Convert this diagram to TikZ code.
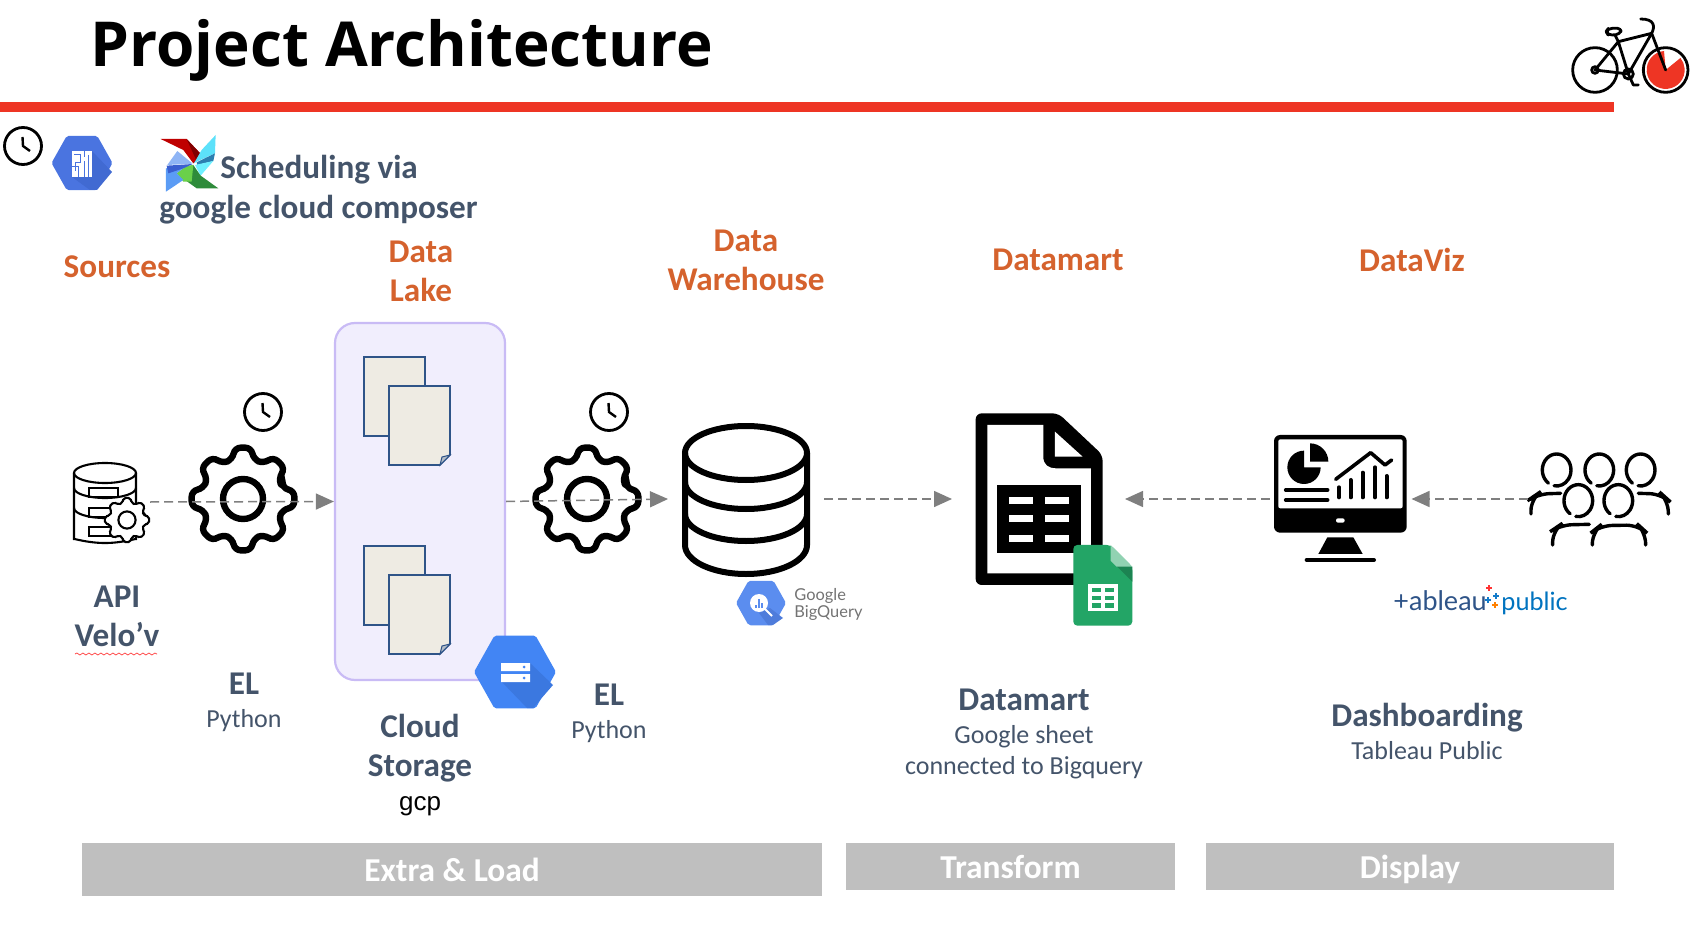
\documentclass[tikz,border=0pt]{standalone}
\usepackage{fontspec}
\usepackage{xcolor}
\usepackage{tikz}
\usetikzlibrary{positioning,arrows.meta,calc,decorations.pathmorphing}
\setmainfont{Carlito}
\newfontfamily\titlefont{Open Sans}
\newfontfamily\logofont{Lato}
\newfontfamily\gcpfont{Liberation Sans}
\definecolor{slate}{HTML}{44546A}
\definecolor{rust}{HTML}{D5622D}
\definecolor{stripe}{HTML}{EE3524}
\definecolor{lakefill}{HTML}{F1EEFD}
\definecolor{lakeline}{HTML}{C9BBF5}
\definecolor{paper}{HTML}{EEEBE3}
\definecolor{paperline}{HTML}{2F5488}
\definecolor{barfill}{HTML}{BFBFBF}
\definecolor{flowgray}{HTML}{7F7F7F}
\definecolor{cloudblue}{HTML}{4A74E0}
\definecolor{cloudshade}{HTML}{416AD2}
\definecolor{storeblue}{HTML}{4285F4}
\definecolor{storeshade}{HTML}{3B78E0}
\definecolor{bqblue}{HTML}{5B8DEF}
\definecolor{bqshade}{HTML}{4E7CDB}
\definecolor{sheetgreen}{HTML}{23A566}
\definecolor{bladecyan}{HTML}{5CE1FA}
\definecolor{bladeteal}{HTML}{2C7FB0}
\definecolor{bladeice}{HTML}{6FF0FF}
\definecolor{bladeforest}{HTML}{2E8B3A}
\definecolor{bladelime}{HTML}{6AD04A}
\definecolor{bladesky}{HTML}{5B9CF5}
\definecolor{bladeroyal}{HTML}{3A5FD0}
\definecolor{bladepale}{HTML}{8FB5F5}
\tikzset{
  stagelabel/.style={text=rust,align=center,font=\fontsize{16.6}{19.6}\selectfont\bfseries},
  toollabel/.style={text=slate,align=center,font=\fontsize{16.6}{19.6}\selectfont\bfseries},
  notelabel/.style={text=slate,align=center,font=\fontsize{13}{15.5}\selectfont},
  stagebar/.style={fill=barfill,text=white,inner sep=0pt,text height=13pt,text depth=1.3pt,font=\fontsize{16.7}{19}\selectfont\bfseries},
  iconslot/.style={inner sep=0pt,outer sep=0pt,minimum height=5pt},
  flow/.style={-{Triangle[length=9pt,width=8pt]},flowgray,line width=.75pt,dash pattern=on 4.5pt off 2.5pt},
  clockicon/.pic={
    \draw[line width=1.4pt,fill=white] (0,0) circle (18.5);
    \draw[line width=1.2pt] (-.5,-9)--(0,0)--(7,5);},
  gearicon/.pic={
    \draw[fill=white] (-15:41) \foreach \a in {0,45,...,315}{
      -- (\a-15:41) -- (\a-9:52) -- (\a+9:52) -- (\a+15:41)} -- cycle;
    \draw (0,0) circle (20);},
  hexicon/.pic={
    \fill[rounded corners=1pt] (-1,0)--(-.5,-.89)--(.5,-.89)--(1,0)--(.5,.89)--(-.5,.89)--cycle;},
  docpair/.pic={
    \draw[paperline,fill=paper,line width=.8pt] (0,0) rectangle (61,79);
    \draw[paperline,fill=paper,line width=.8pt] (25,29)--(86,29)--(86,98)--(76,108)--(25,108)--cycle;
    \draw[paperline,fill=paper!70!paperline,line width=.5pt] (86,98)--(76,108)--(78,100)--cycle;},
}
\begin{document}
\begin{tikzpicture}[x=.5pt,y=-.5pt]
  \useasboundingbox (0,0) rectangle (1690,946);
  % header
  \node[anchor=base west,inner sep=0pt,font=\fontsize{31}{34}\selectfont\titlefont\bfseries] (title) at (90,67) {Project Architecture};
  \fill[stripe] (0,102) rectangle (1614,112);
  % bike
  \begin{scope}[shift={(1540,0)},scale=.3333,line width=1.4pt,line cap=round,line join=round]
    \fill[stripe] (377,210)--(372,153) arc[start angle=-95,end angle=-399,radius=57]--cycle;
    \draw (165,210) circle (67);
    \draw (377,210) circle (67);
    \draw (165,210) circle (10);
    \draw (265,222) circle (15);
    \draw (165,210)--(235,125)--(265,222)--(165,210);
    \draw (235,125)--(335,100)--(265,222);
    \draw (225,105)--(235,125);
    \draw (377,210)--(335,100) .. controls (345,80) and (345,57) .. (302,57);
    \draw[fill=white,rounded corners=2pt] (198,95)--(205,85)--(245,85)--(240,103)--(205,106)--cycle;
    \draw (265,222)--(280,255)--(295,255);
  \end{scope}
  % scheduling
  \pic[line width=1.1pt] at (23,146) {clockicon};
  \pic[scale=30.5,fill=cloudblue] at (82,163) {hexicon};
  \fill[cloudshade] (92,151)--(112,172)--(97,190)--(90,190)--(72,177)--(92,177)--cycle;
  \fill[white] (72,151) rectangle (92,177);
  \draw[cloudblue,line width=.5pt] (74,155)--(80,155)--(80,163)--(75,163)--(75,171) (72,167)--(78,167)--(78,177) (84,151)--(84,157) (84,161)--(84,177) (88,155)--(88,177);
  \begin{scope}[shift={(40,125)},scale=.3333]
    \fill[red!75!black] (362,42)--(440,42)--(490,95)--(460,115)--(430,75)--cycle;
    \fill[red!50!black] (440,42)--(490,95)--(470,108)--cycle;
    \fill[bladecyan] (527,30)--(525,85)--(470,110)--(462,115)--(485,75)--cycle;
    \fill[bladeteal] (470,112)--(525,85)--(520,108)--(472,120)--cycle;
    \fill[bladeice] (465,120)--(520,108)--(482,152)--cycle;
    \fill[bladeforest] (460,120)--(482,152)--(535,190)--(470,190)--(435,165)--cycle;
    \fill[bladelime] (410,145)--(440,122)--(460,120)--(455,170)--(430,170)--cycle;
    \fill[bladesky] (378,200)--(378,130)--(440,122)--(410,145)--(430,165)--cycle;
    \fill[bladeroyal] (380,122)--(458,117)--(430,130)--(385,145)--cycle;
    \fill[bladepale] (412,78)--(458,116)--(382,120)--cycle;
  \end{scope}
  \node[anchor=base west,inner sep=0pt,text=slate,font=\fontsize{16.6}{19}\selectfont\bfseries] (sched) at (220,179) {Scheduling via};
  \node[anchor=base west,inner sep=0pt,text=slate,font=\fontsize{16.6}{19}\selectfont\bfseries] (composer) at (159,219) {google cloud composer};
  % stage headings
  \node[stagelabel] (sources) at (117,267) {Sources};
  \node[stagelabel] (lakehead) at (421,271) {Data\\Lake};
  \node[stagelabel] (dwhhead) at (746,260) {Data\\Warehouse};
  \node[stagelabel] (marthead) at (1058,260) {Datamart};
  \node[stagelabel] (vizhead) at (1412,260) {DataViz};
  % data lake
  \node[draw=lakeline,fill=lakefill,line width=1.1pt,rounded corners=10pt,minimum width=85pt,minimum height=178.5pt,inner sep=0pt] (lake) at (420,501.5) {};
  \pic at (364,357) {docpair};
  \pic at (364,546) {docpair};
  \pic[scale=41,fill=storeblue] at (515,672) {hexicon};
  \fill[storeshade] (530,663)--(553,685)--(533,708)--(527,708)--(501,681)--(530,681)--cycle;
  \fill[white] (501,663) rectangle (530,671) (501,674) rectangle (530,682);
  \fill[storeblue] (524,667) circle (1.5) (524,678) circle (1.5);
  % api
  \node[iconslot,minimum width=38pt] (api) at (112,502) {};
  \begin{scope}[line width=1.05pt]
    \draw[rounded corners=3pt] (74,473)--(74,533) arc[start angle=180,end angle=0,x radius=31,y radius=10]--(136,473);
    \draw (105,473) ellipse (31 and 10);
    \foreach \by in {488,508}{\draw (74,\by) arc[start angle=180,end angle=0,x radius=31,y radius=10];}
    \foreach \by in {488,508,527}{\draw (89,\by) rectangle (118,\by+9);}
    \pic[scale=.43,rounded corners=1pt,line width=1.05pt] at (127,520) {gearicon};
  \end{scope}
  % el steps
  \pic[scale=1,rounded corners=3pt,line width=3.2pt] at (243,499) {gearicon};
  \pic[scale=1,rounded corners=3pt,line width=3.2pt] at (587,499) {gearicon};
  \pic[line width=1pt] at (263,412) {clockicon};
  \pic[line width=1pt] at (609,412) {clockicon};
  % warehouse
  \node[iconslot,minimum width=78pt] (dwh) at (746,499) {};
  \begin{scope}[line width=3pt]
    \draw (685,453)--(685,545) arc[start angle=180,end angle=0,x radius=61,y radius=29]--(807,453);
    \draw (746,453) ellipse (61 and 27);
    \foreach \by in {482,514}{\draw (685,\by) arc[start angle=180,end angle=0,x radius=61,y radius=27];}
  \end{scope}
  \pic[scale=25,fill=bqblue] at (761,603) {hexicon};
  \fill[bqshade] (770,608)--(783,618)--(773,625)--(768,625)--(759,613)--cycle;
  \fill[white] (759,603) circle (9);
  \draw[white,line width=1pt] (765,609)--(772,616);
  \draw[bqblue,line width=.7pt] (756,608)--(756,605) (759,608)--(759,599) (762,608)--(762,603);
  \node[anchor=base west,inner sep=0pt,text=black!55,font=\fontsize{8.2}{10}\logofont] (bqtop) at (794,600) {Google};
  \node[anchor=base west,inner sep=0pt,text=black!55,font=\fontsize{8.2}{10}\logofont] (bqbottom) at (794,617) {BigQuery};
  % datamart
  \node[iconslot,minimum width=86.5pt] (mart) at (1038.5,499) {};
  \begin{scope}[shift={(660,400)},scale=.3333]
    \fill[rounded corners=3pt] (947,40)--(1195,40)--(1328,165)--(1328,555)--(947,555)--cycle;
    \fill[white] (982,75)--(1150,75)--(1150,170) .. controls (1150,195) and (1165,205) .. (1190,205)--(1293,205)--(1293,520)--(982,520)--cycle;
    \fill[white] (1185,95)--(1185,170)--(1268,170)--cycle;
    \fill (1012,255) rectangle (1263,460);
    \foreach \ry in {290,346,405}{
      \fill[white] (1047,\ry) rectangle (1120,\ry+21);
      \fill[white] (1155,\ry) rectangle (1228,\ry+21);}
    \fill[sheetgreen,rounded corners=2pt] (1240,435)--(1352,435)--(1417,500)--(1417,677)--(1240,677)--cycle;
    \fill[sheetgreen!80!black] (1352,480)--(1417,545)--(1417,500)--cycle;
    \fill[sheetgreen!50!white] (1352,435)--(1417,500)--(1370,500)--(1352,482)--cycle;
    \fill[white] (1285,553) rectangle (1373,632);
    \foreach \gx in {1295,1335}{\foreach \gy in {563,587,610}{\fill[sheetgreen] (\gx,\gy) rectangle (\gx+28,\gy+13);}}
  \end{scope}
  % dashboard
  \node[iconslot,minimum width=71pt] (board) at (1340.5,499) {};
  \begin{scope}[shift={(1250,410)},scale=.3333,line cap=round]
    \fill[rounded corners=3pt] (72,75) rectangle (470,368);
    \fill[white,rounded corners=1pt] (85,88) rectangle (458,295);
    \fill[white,rounded corners=1pt] (258,325) rectangle (284,338);
    \fill (232,382)--(310,382)--(338,432)--(205,432)--cycle;
    \draw[line width=2pt] (170,450)--(372,450);
    \fill (162,172)--(162,122) arc[start angle=270,end angle=0,radius=50]--cycle;
    \fill (180,155)--(180,100) arc[start angle=270,end angle=360,radius=55]--cycle;
    \draw[line width=1.8pt] (107,240)--(233,240) (107,270)--(233,270);
    \foreach \bx/\bt in {267/232,302/210,338/188,375/172,410/198}{\draw[line width=2pt] (\bx,262)--(\bx,\bt);}
    \draw[line width=1.8pt,line join=round] (257,208)--(362,128)--(405,165)--(425,150);
  \end{scope}
  % people
  \node[iconslot,minimum width=72pt] (crowd) at (1600,499) {};
  \begin{scope}[shift={(1250,410)},scale=.3333,line width=1.7pt,line cap=round]
    \foreach \hx/\hy in {920/180,1048/180,1172/180,985/272,1105/272}{
      \draw (\hx,\hy) ++(125:43 and 48) arc[start angle=125,end angle=460,x radius=43,y radius=48];}
    \draw[rounded corners=6pt] (843,312)--(843,265)--(862,252)--(932,250);
    \draw[rounded corners=6pt] (1165,250)--(1235,252)--(1255,270)--(1255,312);
    \draw[rounded corners=6pt] (908,405)--(908,360)--(930,345)--(1018,343);
    \draw[rounded corners=6pt] (1027,405)--(1027,365)--(1050,347)--(1165,345)--(1187,365)--(1187,405);
  \end{scope}
  % flows
  \draw[flow] (api.east)--(lake.west);
  \draw[flow] (lake.east)--(dwh.west);
  \draw[flow] (dwh.east)--(mart.west);
  \draw[flow] (board.west)--(mart.east);
  \draw[flow] (crowd.west)--(board.east);
  % labels under icons
  \node[toollabel] (apilabel) at (117,616) {API\\Velo’v};
  \draw[decorate,decoration={snake,amplitude=.5pt,segment length=3pt},red!75,line width=.35pt] (75,654)--(157,654);
  \node[toollabel] (elone) at (244,684) {EL};
  \node[notelabel] (pyone) at (244,721) {Python};
  \node[toollabel] (storelabel) at (420,748) {Cloud\\Storage};
  \node[font=\fontsize{13}{14}\selectfont\gcpfont] (gcplabel) at (420,806) {gcp};
  \node[toollabel] (eltwo) at (609,695) {EL};
  \node[notelabel] (pytwo) at (609,732) {Python};
  \node[toollabel] (martlabel) at (1024,700) {Datamart};
  \node[notelabel] (martnote) at (1024,752) {Google sheet\\connected to Bigquery};
  \node[toollabel] (boardlabel) at (1427,718) {Dashboarding};
  \node[notelabel] (boardnote) at (1427,751) {Tableau Public};
  % tableau logo
  \node[anchor=base west,inner sep=0pt,text=paperline,font=\fontsize{13.5}{15}\logofont] (logoleft) at (1393,610) {+ableau};
  \node[anchor=base west,inner sep=0pt,text=blue!40!cyan!75!black,font=\fontsize{12.6}{15}\logofont] (logoright) at (1501,610) {public};
  \foreach \cx/\cy/\cc in {1489/588/red!80,1496/596/cyan!60!blue,1488/600/cyan!60!blue,1495/605/orange}{
    \draw[\cc,line width=.7pt] (\cx-3,\cy)--(\cx+3,\cy) (\cx,\cy-3)--(\cx,\cy+3);}
  % phases
  \node[stagebar,minimum width=370pt,minimum height=26.5pt] (extract) at (452,869.5) {Extra \& Load};
  \node[stagebar,minimum width=164.5pt,minimum height=23.5pt] (transform) at (1010.5,866.5) {Transform};
  \node[stagebar,minimum width=204pt,minimum height=23.5pt] (display) at (1410,866.5) {Display};
\end{tikzpicture}
\end{document}
